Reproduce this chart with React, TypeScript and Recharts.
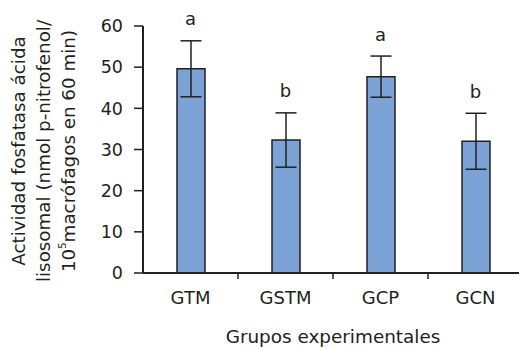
import { ComposedChart, Bar, ErrorBar, XAxis, YAxis, Line, LabelList, Label } from "recharts";

const groups = ["GTM", "GSTM", "GCP", "GCN"];
const means = [49.6, 32.3, 47.7, 32.0];
const errors = [6.8, 6.6, 5.0, 6.8];
const letters = ["a", "b", "a", "b"];
const yTicks = [0, 10, 20, 30, 40, 50, 60];

const INK = "#231f20";
const FONT = "'DejaVu Sans', sans-serif";
const CHART_W = 526;
const CHART_H = 349;
const MARGIN = { top: 26, right: 3, bottom: 16, left: 0 };
const Y_AXIS_W = 143;
const BAND = (CHART_W - MARGIN.left - MARGIN.right - Y_AXIS_W) / groups.length;

const data = groups.map((g, i) => ({
  group: g,
  mean: means[i],
  err: errors[i],
  top: means[i] + errors[i],
  letter: letters[i]
}));

function GroupTick(props: any) {
  const { x, y, payload, index } = props;
  return (
    <g>
      {index < groups.length - 1 && (
        <line x1={x + BAND / 2} x2={x + BAND / 2} y1={y} y2={y + 6} stroke={INK} strokeWidth={1.5} />
      )}
      <text x={x} y={y + 31} textAnchor="middle" fontSize={18} fill={INK} fontFamily={FONT}>
        {payload.value}
      </text>
    </g>
  );
}

function XTitle() {
  const cx = Y_AXIS_W + (CHART_W - MARGIN.right - Y_AXIS_W) / 2;
  return (
    <text x={cx} y={CHART_H - 6} textAnchor="middle" fontSize={18.4} fill={INK} fontFamily={FONT}>
      Grupos experimentales
    </text>
  );
}

function YTitle() {
  const cy = 151;
  const lines = [25, 50, 75];
  return (
    <g fontSize={18.3} fill={INK} fontFamily={FONT}>
      <text x={lines[0]} y={cy} textAnchor="middle" transform={`rotate(-90 ${lines[0]} ${cy})`}>
        Actividad fosfatasa ácida
      </text>
      <text x={lines[1]} y={cy} textAnchor="middle" transform={`rotate(-90 ${lines[1]} ${cy})`}>
        lisosomal (nmol p-nitrofenol/
      </text>
      <text x={lines[2]} y={cy} textAnchor="middle" transform={`rotate(-90 ${lines[2]} ${cy})`}>
        10
        <tspan fontSize={10} dy={-9}>5</tspan>
        <tspan dy={9}>macrófagos en 60 min)</tspan>
      </text>
    </g>
  );
}

export default function App() {
  return (
    <div style={{ position: "absolute", left: 0, top: 0, width: 519, height: CHART_H, overflow: "hidden", background: "#fff" }}>
      <ComposedChart width={CHART_W} height={CHART_H} data={data} margin={MARGIN} barCategoryGap={0}>
        <XAxis
          dataKey="group"
          height={60}
          tickLine={false}
          tickSize={0}
          tickMargin={0}
          axisLine={{ stroke: INK, strokeWidth: 2 }}
          tick={<GroupTick />}
          interval={0}
        >
          <Label content={<XTitle />} />
        </XAxis>
        <YAxis
          width={Y_AXIS_W}
          domain={[0, 60]}
          ticks={yTicks}
          interval={0}
          tickSize={9}
          tickMargin={11}
          axisLine={{ stroke: INK, strokeWidth: 2 }}
          tickLine={{ stroke: INK, strokeWidth: 1.5 }}
          tick={{ fontSize: 17.5, fill: INK, fontFamily: FONT }}
        >
          <Label content={<YTitle />} />
        </YAxis>
        <Bar dataKey="mean" barSize={28} fill="#7ca3d5" stroke={INK} strokeWidth={1.5} isAnimationActive={false}>
          <ErrorBar dataKey="err" width={10.5} stroke={INK} strokeWidth={1.5} direction="y" />
        </Bar>
        <Line dataKey="top" stroke="none" dot={false} activeDot={false} isAnimationActive={false}>
          <LabelList dataKey="letter" position="top" offset={15.5} fontSize={18} fill={INK} fontFamily={FONT} />
        </Line>
      </ComposedChart>
    </div>
  );
}
